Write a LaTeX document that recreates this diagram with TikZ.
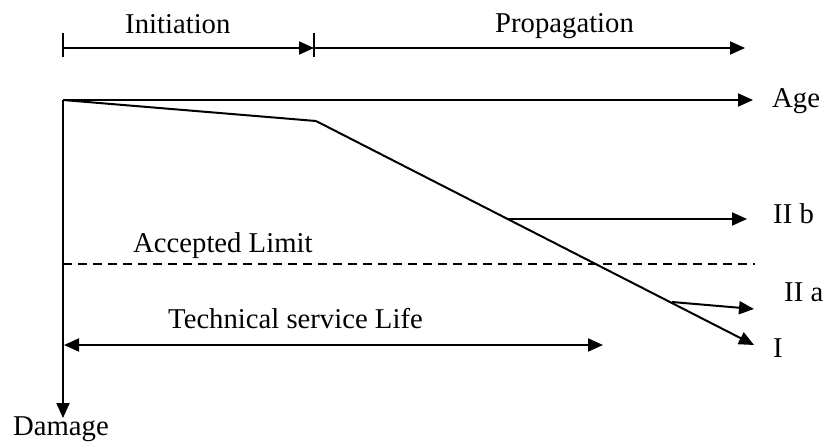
\documentclass[tikz,border=0pt]{standalone}
\usepackage{fontspec}
\setmainfont{Liberation Serif}
\usetikzlibrary{arrows.meta}
\begin{document}
\begin{tikzpicture}[x=1pt,y=-1pt,
  lbl/.style={font=\fontsize{28.7}{32}\selectfont, inner sep=0pt, anchor=base west},
  ln/.style={line width=2pt},
  arr/.style={ln,-{Triangle[length=15pt,width=13pt]}},
  darr/.style={ln,{Triangle[length=15pt,width=13pt]}-{Triangle[length=15pt,width=13pt]}},
  limit/.style={line width=1.6pt, dash pattern=on 9pt off 6pt}]
\useasboundingbox (0,0) rectangle (826,447);
% coordinates
\coordinate (t0) at (63,48);
\coordinate (t0a) at (63,33);
\coordinate (t0b) at (63,57);
\coordinate (t1) at (314,48);
\coordinate (t1a) at (314,33);
\coordinate (t1b) at (314,57);
\coordinate (t2) at (745,48);
\coordinate (o) at (63,100);
\coordinate (ageend) at (753,100);
\coordinate (dmgend) at (63,418);
\coordinate (brk) at (316,121);
\coordinate (iend) at (754,345);
\coordinate (iib0) at (508,219);
\coordinate (iib1) at (747,219);
\coordinate (iia0) at (672,302);
\coordinate (iia1) at (754,309);
\coordinate (lim0) at (63,264);
\coordinate (lim1) at (755,264);
\coordinate (tsl0) at (64,345);
\coordinate (tsl1) at (603,345);
% labels
\node[lbl] (init) at (125,33) {Initiation};
\node[lbl] (prop) at (495,32) {Propagation};
\node[lbl] (age) at (772,107) {Age};
\node[lbl] (iib) at (773,223) {II b};
\node[lbl] (acc) at (133,252) {Accepted Limit};
\node[lbl] (iia) at (784,301) {II a};
\node[lbl] (one) at (773,357) {I};
\node[lbl] (tsl) at (168,328) {Technical service Life};
\node[lbl] (dmg) at (13,435) {Damage};
% phase arrows
\draw[ln] (t0a) -- (t0b);
\draw[ln] (t1a) -- (t1b);
\draw[arr] (t0) -- (t1);
\draw[arr] (t1) -- (t2);
% axes
\draw[arr] (o) -- (ageend);
\draw[arr] (o) -- (dmgend);
% damage curve
\draw[ln] (o) -- (brk);
\draw[arr] (brk) -- (iend);
\draw[arr] (iib0) -- (iib1);
\draw[arr] (iia0) -- (iia1);
% limit
\draw[limit] (lim0) -- (lim1);
% service life
\draw[darr] (tsl0) -- (tsl1);
\end{tikzpicture}
\end{document}
